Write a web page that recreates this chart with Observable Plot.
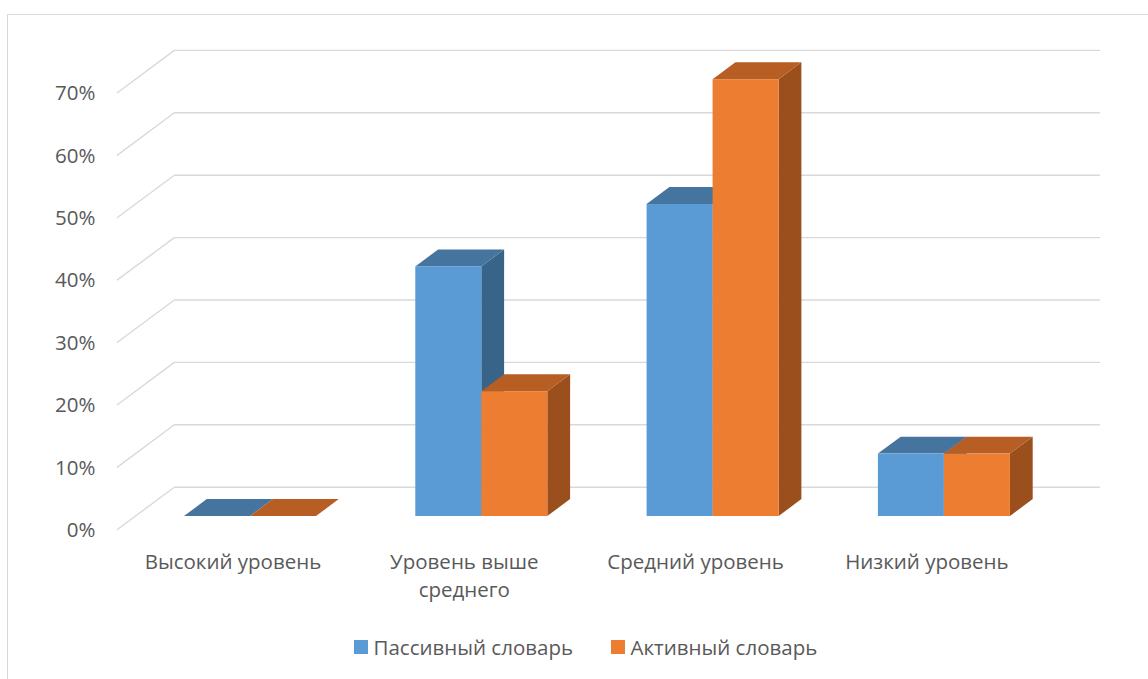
<!DOCTYPE html>
<html>
<head>
<meta charset="utf-8">
<script src="https://cdn.jsdelivr.net/npm/d3@7"></script>
<script src="https://cdn.jsdelivr.net/npm/@observablehq/plot@0.6"></script>
<style>
  html, body { margin: 0; padding: 0; background: #fff; overflow: hidden; width: 1148px; height: 679px; }
  #frame { position: absolute; left: 7px; top: 14px; width: 1170px; height: 720px; border: 1.3px solid #d9d9d9; box-sizing: border-box; }
  #chart { position: absolute; left: 0; top: 0; }
  #legend { position: absolute; left: 354px; top: 633px; display: flex; align-items: center; font-family: "Open Sans", sans-serif; font-size: 20.5px; color: #595959; }
  .sw { width: 13.5px; height: 13.5px; display: inline-block; margin-right: 6px; }
  .item { display: flex; align-items: center; }
  .item + .item { margin-left: 38px; }
</style>
</head>
<body>
<div id="frame"></div>
<div id="chart"></div>
<div id="legend"></div>
<script>
// ---- data ----
const categories = ["Высокий уровень", "Уровень выше\nсреднего", "Средний уровень", "Низкий уровень"];
const seriesNames = ["Пассивный словарь", "Активный словарь"];
const passive = [0.00, 0.40, 0.50, 0.10];
const active  = [0.00, 0.20, 0.70, 0.10];
const yTicks = [0, 0.1, 0.2, 0.3, 0.4, 0.5, 0.6, 0.7];
const yTickLabels = ["0%", "10%", "20%", "30%", "40%", "50%", "60%", "70%"];

// ---- styles ----
const frontColors = ["#5B9BD5", "#ED7D31"];
const topColors   = ["#45749F", "#B65E23"];
const sideColors  = ["#386489", "#9A4F1D"];
const gridColor = "#D9D9D9";
const textColor = "#595959";
const FONT_SIZE = 20.5;

// ---- 3D geometry (pixel offsets converted to data units) ----
const CAT_PX = 231.3, UNIT_PX = 624;   // px per category step, px per 100%
const DEPTH_DX = 57, DEPTH_DY = 42.3;  // wall depth offset in px
const BAR_Z0 = 0.307, BAR_Z1 = 0.707;  // bar front/back depth (0 = axis front, 1 = back wall)
const BAR_W = 66 / CAT_PX;             // bar width in category units
const proj = (u, v, z) => ({u: u + z * DEPTH_DX / CAT_PX, v: v + z * DEPTH_DY / UNIT_PX});

const seriesValues = [passive, active];
const bars = seriesValues.map((vals, s) => vals.map((value, i) => ({
  s, i, value, id: s + "-" + i,
  u1: s === 0 ? i - BAR_W : i,
  u2: s === 0 ? i : i + BAR_W
})));

const marks = [];

// gridlines (front diagonal + back wall)
const gridRows = yTicks.flatMap(t => [
  {t, ...proj(-0.5, t, 0)},
  {t, ...proj(-0.5, t, 1)},
  {t, ...proj(3.5, t, 1)}
]);
marks.push(Plot.line(gridRows, {x: "u", y: "v", z: "t", stroke: gridColor, strokeWidth: 1.4}));

// bars
bars.forEach((list, s) => {
  // side faces
  const sideRows = list.flatMap(d => [BAR_Z0, BAR_Z1].map(z => {
    const a = proj(d.u2, 0, z), b = proj(d.u2, d.value, z);
    return {id: d.id, x: a.u, y1: a.v, y2: b.v};
  }));
  marks.push(Plot.areaY(sideRows, {x: "x", y1: "y1", y2: "y2", z: "id", fill: sideColors[s], curve: "linear"}));
  // top faces
  const topRows = list.flatMap(d => [BAR_Z0, BAR_Z1].map(z => {
    const a = proj(d.u1, d.value, z), b = proj(d.u2, d.value, z);
    return {id: d.id, y: a.v, x1: a.u, x2: b.u};
  }));
  marks.push(Plot.areaX(topRows, {y: "y", x1: "x1", x2: "x2", z: "id", fill: topColors[s], curve: "linear"}));
  // front faces
  marks.push(Plot.rect(list.filter(d => d.value > 0), {
    x1: d => proj(d.u1, 0, BAR_Z0).u,
    x2: d => proj(d.u2, 0, BAR_Z0).u,
    y1: d => proj(d.u1, 0, BAR_Z0).v,
    y2: d => proj(d.u1, d.value, BAR_Z0).v,
    fill: frontColors[s]
  }));
});

// y tick labels
marks.push(Plot.text(yTicks, {
  x: () => -0.5, y: d => d, text: (d, i) => yTickLabels[i],
  textAnchor: "end", dx: -22, dy: 1, fontSize: FONT_SIZE, fill: textColor
}));

// category labels
marks.push(Plot.text(categories, {
  x: (d, i) => i, y: () => -0.031, text: d => d,
  lineAnchor: "top", lineHeight: 1.38, fontSize: FONT_SIZE, fill: textColor
}));

const chart = Plot.plot({
  width: 1148,
  height: 625,
  margin: 0,
  x: {type: "linear", domain: [0, 3], range: [232.5, 232.5 + 3 * CAT_PX], axis: null},
  y: {type: "linear", domain: [0, 0.7], range: [529, 529 - 0.7 * UNIT_PX], axis: null},
  style: {fontFamily: "'Open Sans', sans-serif", background: "none", overflow: "visible"},
  marks
});
document.getElementById("chart").appendChild(chart);

// legend
const legend = document.getElementById("legend");
seriesNames.forEach((name, s) => {
  const item = document.createElement("div");
  item.className = "item";
  item.innerHTML = `<span class="sw" style="background:${frontColors[s]}"></span><span>${name}</span>`;
  legend.appendChild(item);
});
</script>
</body>
</html>
